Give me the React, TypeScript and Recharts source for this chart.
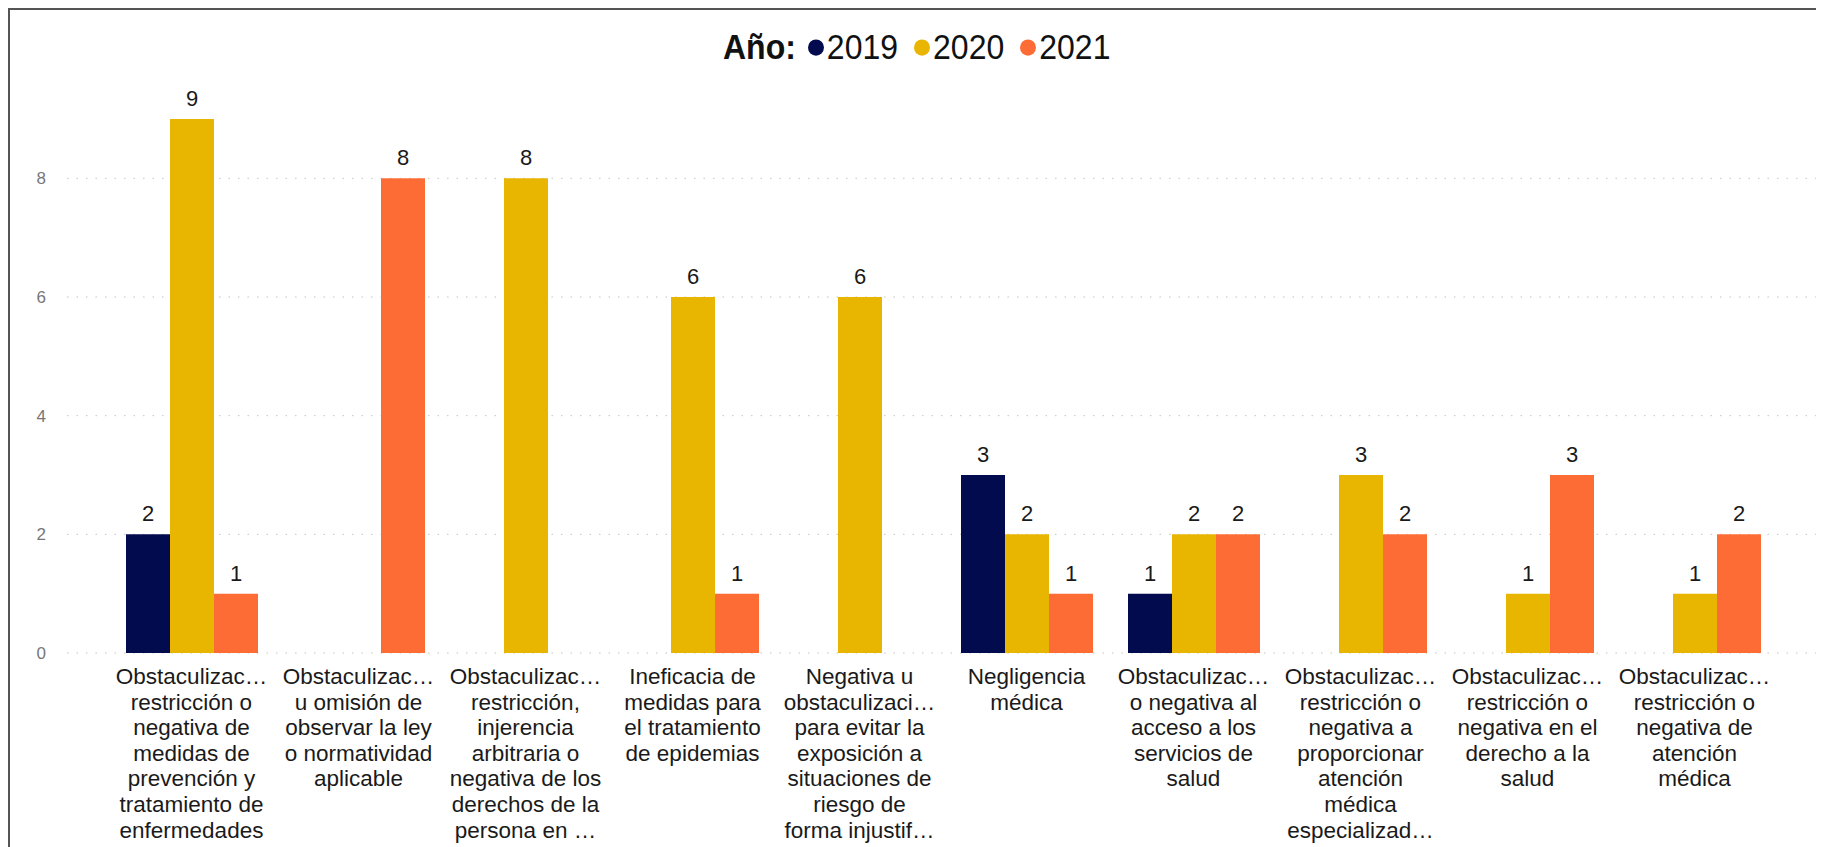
import React from 'react';
import { BarChart, Bar, XAxis, YAxis, CartesianGrid, LabelList } from 'recharts';

const categories = ['c1', 'c2', 'c3', 'c4', 'c5', 'c6', 'c7', 'c8', 'c9', 'c10'];

const tickLines: string[][] = [
  ['Obstaculizac…', 'restricción o', 'negativa de', 'medidas de', 'prevención y', 'tratamiento de', 'enfermedades'],
  ['Obstaculizac…', 'u omisión de', 'observar la ley', 'o normatividad', 'aplicable'],
  ['Obstaculizac…', 'restricción,', 'injerencia', 'arbitraria o', 'negativa de los', 'derechos de la', 'persona en …'],
  ['Ineficacia de', 'medidas para', 'el tratamiento', 'de epidemias'],
  ['Negativa u', 'obstaculizaci…', 'para evitar la', 'exposición a', 'situaciones de', 'riesgo de', 'forma injustif…'],
  ['Negligencia', 'médica'],
  ['Obstaculizac…', 'o negativa al', 'acceso a los', 'servicios de', 'salud'],
  ['Obstaculizac…', 'restricción o', 'negativa a', 'proporcionar', 'atención', 'médica', 'especializad…'],
  ['Obstaculizac…', 'restricción o', 'negativa en el', 'derecho a la', 'salud'],
  ['Obstaculizac…', 'restricción o', 'negativa de', 'atención', 'médica'],
];

const values2019: (number | null)[] = [2, null, null, null, null, 3, 1, null, null, null];
const values2020: (number | null)[] = [9, null, 8, 6, 6, 2, 2, 3, 1, 1];
const values2021: (number | null)[] = [1, 8, null, 1, null, 1, 2, 2, 3, 2];

const yTicks = [0, 2, 4, 6, 8];

const seriesNames = ['2019', '2020', '2021'];
const colors = ['#030B4F', '#E8B500', '#FD6C35'];

const data = categories.map((c, i) => ({
  cat: c,
  y2019: values2019[i],
  y2020: values2020[i],
  y2021: values2021[i],
}));

const FONT = 'Arial, "Liberation Sans", Helvetica, sans-serif';

const ValueLabel = (props: any) => {
  const { x, y, width, value } = props;
  if (value === null || value === undefined) return null;
  return (
    <text x={x + width / 2} y={y - 13} textAnchor="middle" fontSize={22} fill="#1a1a1a" fontFamily={FONT}>
      {value}
    </text>
  );
};

const CatTick = (props: any) => {
  const { x, y, payload } = props;
  const lines = tickLines[payload.index] || [];
  return (
    <text x={x} y={y} textAnchor="middle" fontSize={22.5} fill="#1a1a1a" fontFamily={FONT}>
      {lines.map((l, i) => (
        <tspan key={i} x={x} y={y + 31 + i * 25.6}>
          {l}
        </tspan>
      ))}
    </text>
  );
};

const LegendBox = () => (
  <div
    style={{
      position: 'absolute',
      left: 713,
      top: 17,
      height: 40,
      display: 'flex',
      alignItems: 'center',
      fontFamily: FONT,
      fontSize: 32,
      color: '#111',
      whiteSpace: 'nowrap',
      transform: 'scaleY(1.08)',
      transformOrigin: 'left center',
    }}
  >
    <span style={{ fontWeight: 'bold', marginRight: 12 }}>Año:</span>
    {seriesNames.map((n, i) => (
      <span key={n} style={{ display: 'flex', alignItems: 'center', marginRight: i < 2 ? 16 : 0 }}>
        <span
          style={{
            display: 'inline-block',
            width: 16,
            height: 15,
            borderRadius: '50%',
            background: colors[i],
            marginRight: 3,
          }}
        />
        <span>{n}</span>
      </span>
    ))}
  </div>
);

export default function App() {
  return (
    <div
      style={{
        position: 'relative',
        width: 1816,
        height: 839,
        borderTop: '2px solid #555',
        borderLeft: '2px solid #555',
        boxSizing: 'border-box',
        background: '#fff',
        fontFamily: FONT,
      }}
    >
      <LegendBox />
      <BarChart
        width={1814}
        height={837}
        data={data}
        margin={{ top: 109, right: 8, left: 0, bottom: 0 }}
        barCategoryGap={18}
        barGap={0}
      >
        <CartesianGrid
          vertical={false}
          stroke="#c4c4c4"
          strokeDasharray="1.5 8"
          horizontalValues={yTicks}
        />
        <XAxis
          dataKey="cat"
          interval={0}
          height={194}
          axisLine={false}
          tickLine={false}
          tickSize={0}
          tickMargin={0}
          padding={{ left: 41, right: 38 }}
          tick={<CatTick />}
        />
        <YAxis
          width={57}
          domain={[0, 9]}
          ticks={yTicks}
          axisLine={false}
          tickLine={false}
          tickSize={0}
          tickMargin={21}
          tick={{ fill: '#777', fontSize: 17, fontFamily: FONT }}
          allowDataOverflow
        />
        <Bar dataKey="y2019" name="2019" fill={colors[0]} isAnimationActive={false}>
          <LabelList dataKey="y2019" content={<ValueLabel />} />
        </Bar>
        <Bar dataKey="y2020" name="2020" fill={colors[1]} isAnimationActive={false}>
          <LabelList dataKey="y2020" content={<ValueLabel />} />
        </Bar>
        <Bar dataKey="y2021" name="2021" fill={colors[2]} isAnimationActive={false}>
          <LabelList dataKey="y2021" content={<ValueLabel />} />
        </Bar>
      </BarChart>
    </div>
  );
}
